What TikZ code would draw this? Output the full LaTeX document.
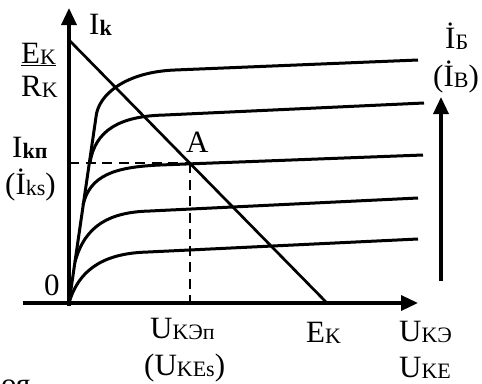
\documentclass[tikz,border=0pt]{standalone}
\usepackage{fontspec}
\setmainfont{Liberation Serif}
\usetikzlibrary{arrows.meta}
\newcommand\sbx[1]{\raisebox{-1pt}{\fontsize{22}{22}\selectfont #1}}
\begin{document}
\begin{tikzpicture}[x=1pt,y=-1pt,
 axis/.style={line width=3.4pt, -{Triangle[length=17pt,width=15pt]}},
 curve/.style={line width=3pt},
 load/.style={line width=2.7pt},
 guide/.style={line width=2.8pt, dash pattern=on 10pt off 6.5pt},
 lbl/.style={anchor=base west, inner sep=0pt, font=\fontsize{31}{33}\selectfont}]
\useasboundingbox (0,0) rectangle (482,383);
% coordinates
\coordinate (Ob) at (69,306);
\coordinate (O) at (69,303);
\coordinate (Yt) at (69,8);
\coordinate (Xl) at (23,303);
\coordinate (Xr) at (418,303);
\coordinate (L1) at (69,40);
\coordinate (EK) at (327,303);
\coordinate (A) at (190,163);
\coordinate (Ay) at (69,163);
\coordinate (Ax) at (190,303);
\coordinate (S) at (96,117);
\coordinate (Rb) at (441,281);
\coordinate (Rt) at (441,97);
% axes
\draw[axis] (Ob) -- (Yt);
\draw[axis] (Xl) -- (Xr);
\draw[axis] (Rb) -- (Rt);
% load line
\draw[load] (L1) -- (EK);
% dashed guides
\draw[guide] (Ay) -- (A);
\draw[guide] (A) -- (Ax);
% saturation line
\draw[curve] (O) -- (S);
% characteristic curves
\draw[curve] (S) .. controls (98,95) and (125,72) .. (175,70) -- (418,60);
\draw[curve] (90,163) .. controls (95,130) and (120,116) .. (165,115) -- (424,103);
\draw[curve] (83,205) .. controls (90,175) and (115,167) .. (160,165) -- (423,155);
\draw[curve] (75,262) .. controls (85,225) and (110,212) .. (150,211) -- (418,198);
\draw[curve] (O) .. controls (80,265) and (110,253) .. (148,252) -- (418,239);
% labels
\node[lbl] (tIk) at (89,34) {I\sbx{\bfseries k}};
\node[lbl] (tEK) at (21,63) {\underline{E\sbx{K}}};
\node[lbl] (tRK) at (21,96) {R\sbx{K}};
\node[lbl] (tIkp) at (12,157) {I\sbx{\bfseries kп}};
\node[lbl] (tIks) at (5,194) {(İ\sbx{ks})};
\node[lbl] (t0) at (44,295) {0};
\node[lbl] (tA) at (186,152) {A};
\node[lbl] (tU1) at (150,338) {U\sbx{KЭп}};
\node[lbl] (tU2) at (144,375) {(U\sbx{KEs})};
\node[lbl] (tEK2) at (306,342) {E\sbx{K}};
\node[lbl] (tU3) at (399,341) {U\sbx{KЭ}};
\node[lbl] (tU4) at (399,377) {U\sbx{KE}};
\node[lbl] (tIB1) at (445,48) {İ\sbx{Б}};
\node[lbl] (tIB2) at (433,86) {(İ\sbx{B})};
\node[lbl] (toy) at (1,394) {оя};
\end{tikzpicture}
\end{document}
